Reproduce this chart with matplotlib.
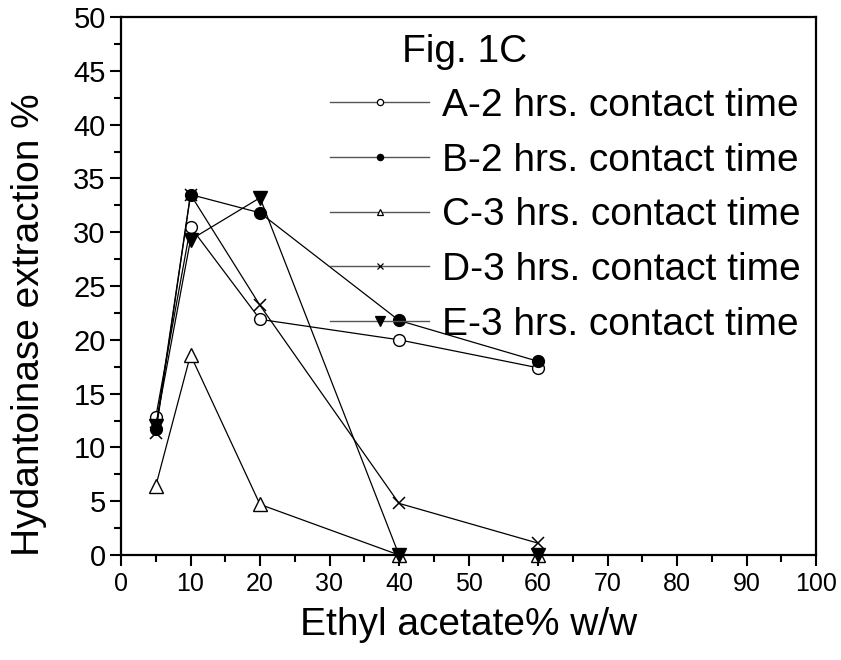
import matplotlib
matplotlib.use("Agg")
import matplotlib.pyplot as plt
from matplotlib.lines import Line2D
from matplotlib.ticker import MultipleLocator
from matplotlib import font_manager

plt.rcParams['font.family'] = ['Liberation Sans', 'DejaVu Sans']

x = [5, 10, 20, 40, 60]
series_labels = ["A-2 hrs. contact time", "B-2 hrs. contact time", "C-3 hrs. contact time",
                 "D-3 hrs. contact time", "E-3 hrs. contact time"]
a_vals = [12.8, 30.5, 21.9, 20.0, 17.4]
b_vals = [11.7, 33.5, 31.8, 21.8, 18.0]
c_vals = [6.4, 18.6, 4.7, 0.0, 0.0]
d_vals = [11.3, 33.5, 23.2, 4.8, 1.1]
e_vals = [12.0, 29.3, 33.2, 0.0, 0.0]
x_ticks = [0, 10, 20, 30, 40, 50, 60, 70, 80, 90, 100]
y_ticks = [0, 5, 10, 15, 20, 25, 30, 35, 40, 45, 50]


def has_font(name):
    try:
        font_manager.findfont(font_manager.FontProperties(family=name),
                              fallback_to_default=False)
        return True
    except Exception:
        return False


if has_font('Liberation Sans Narrow'):
    narrow_family, xtick_size, xlab_size = ['Liberation Sans Narrow', 'Liberation Sans'], 21, 30
elif has_font('DejaVu Sans Condensed'):
    narrow_family, xtick_size, xlab_size = ['DejaVu Sans Condensed', 'Liberation Sans'], 18, 26
else:
    narrow_family, xtick_size, xlab_size = ['Liberation Sans', 'DejaVu Sans'], 18, 28

W, H = 841, 660
fig = plt.figure(figsize=(W / 100, H / 100), dpi=100)
ax = fig.add_axes([121 / W, 1 - 555 / H, (816 - 121) / W, (555 - 17) / H])

styles = [
    dict(marker='o', mfc='white', mec='black', ms=8.5, mew=1.0),
    dict(marker='o', mfc='black', mec='black', ms=8.5, mew=1.0),
    dict(marker='^', mfc='white', mec='black', ms=10, mew=1.0),
    dict(marker='x', mfc='none', mec='black', ms=9, mew=1.1),
    dict(marker='v', mfc='black', mec='black', ms=10, mew=1.0),
]
all_vals = [a_vals, b_vals, c_vals, d_vals, e_vals]
for vals, st in zip(all_vals, styles):
    ax.plot(x, vals, color='black', lw=0.9, clip_on=False, zorder=3, **st)

ax.set_xlim(0, 100)
ax.set_ylim(0, 50)
ax.set_xticks(x_ticks)
ax.set_yticks(y_ticks)
ax.xaxis.set_minor_locator(MultipleLocator(5))
ax.yaxis.set_minor_locator(MultipleLocator(2.5))
ax.tick_params(which='major', direction='out', length=8, width=1.5)
ax.tick_params(which='minor', direction='out', length=5, width=1.5)
ax.tick_params(top=False, right=False, which='both')
for s in ax.spines.values():
    s.set_linewidth(1.6)

ax.set_xticklabels([str(v) for v in x_ticks], family=narrow_family, fontsize=xtick_size)
ax.set_yticklabels([str(v) for v in y_ticks], fontsize=21)
ax.tick_params(axis='x', pad=4)
ax.tick_params(axis='y', pad=3)

ax.set_xlabel("Ethyl acetate% w/w", fontsize=xlab_size, family=narrow_family)
ax.xaxis.set_label_coords(0.5, (555 - 607) / (555 - 17))
ax.set_ylabel("Hydantoinase extraction %", fontsize=28)
ax.yaxis.set_label_coords((47 - 121) / (816 - 121), (555 - 325) / (555 - 17))

handles = []
for st in styles:
    hs = dict(st)
    hs['ms'] = 4.5 if hs['marker'] != 'v' else 7
    hs['mew'] = 0.9
    handles.append(Line2D([], [], color='#555555', lw=1.0, **hs))

leg = ax.legend(handles, series_labels, loc='upper left',
                bbox_to_anchor=(330 / W, 1 - 88 / H), bbox_transform=fig.transFigure,
                frameon=False, fontsize=28, handlelength=2.55, handletextpad=0.33,
                labelspacing=0.48, borderpad=0, borderaxespad=0)

fig.text(402 / W, 1 - 62 / H, "Fig. 1C", fontsize=28, va='baseline', ha='left')

fig.savefig("out.png", dpi=100)
